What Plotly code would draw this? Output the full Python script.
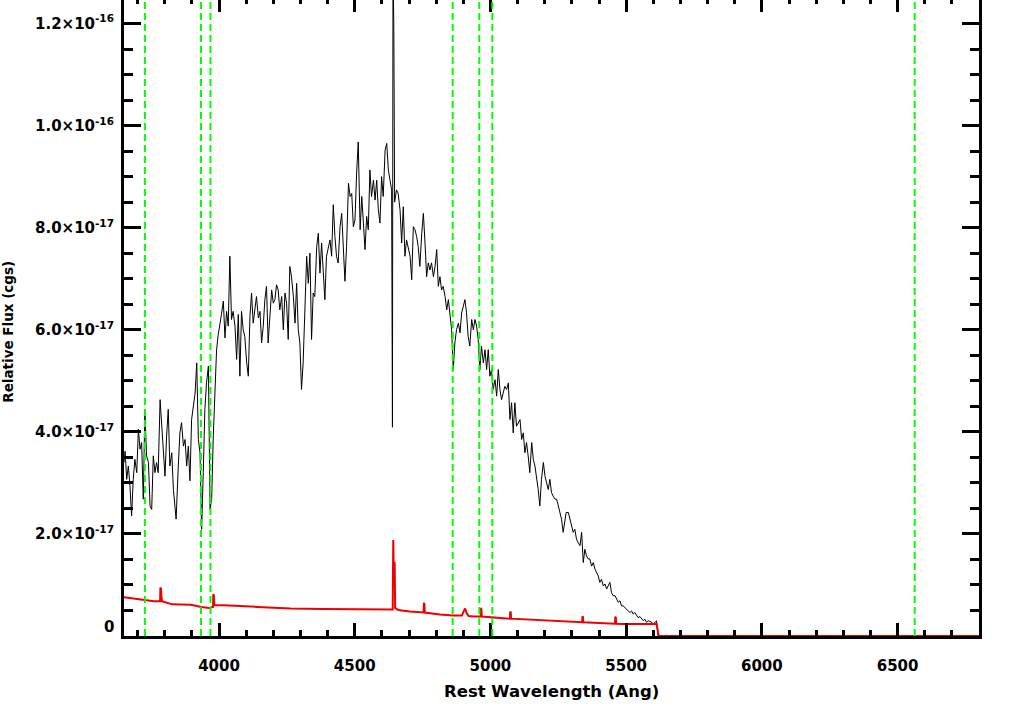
import plotly.graph_objects as go

# ---------------- data (flux in units of 1e-17 erg/s/cm2/A) ----------------
SCALE = 1e-17

wl_obj = [3650, 3654, 3660, 3666, 3672, 3678, 3684, 3690, 3697, 3703, 3709, 3715, 3721, 3727,
          3733, 3740, 3746, 3752, 3758, 3764, 3770, 3776, 3783, 3789, 3795, 3801, 3807, 3813,
          3819, 3826, 3832, 3842, 3850, 3856, 3862, 3869, 3875, 3881, 3887, 3893, 3899, 3905,
          3912, 3918, 3924, 3930, 3936, 3942, 3948, 3954, 3961, 3967, 3973, 3979, 3985, 3991,
          3997, 4003, 4009, 4016, 4022, 4028, 4034, 4040, 4046, 4052, 4059, 4065, 4071, 4077,
          4083, 4089, 4095, 4102, 4108, 4114, 4120, 4126, 4132, 4138, 4145, 4151, 4157, 4163,
          4169, 4175, 4181, 4188, 4194, 4200, 4206, 4212, 4218, 4224, 4231, 4237, 4243, 4249,
          4255, 4261, 4267, 4274, 4280, 4286, 4292, 4298, 4304, 4310, 4317, 4323, 4329, 4335,
          4341, 4347, 4353, 4360, 4366, 4372, 4378, 4384, 4390, 4396, 4403, 4409, 4415, 4421,
          4427, 4433, 4439, 4446, 4452, 4458, 4464, 4470, 4477, 4483, 4489, 4495, 4501, 4507,
          4513, 4520, 4526, 4532, 4538, 4544, 4550, 4556, 4562, 4569, 4575, 4581, 4587, 4593,
          4599, 4605, 4612, 4618, 4624, 4630, 4636, 4639, 4641, 4644, 4647, 4654, 4660, 4667,
          4673, 4679, 4685, 4691, 4697, 4704, 4710, 4716, 4722, 4728, 4734, 4740, 4747, 4753,
          4759, 4765, 4771, 4777, 4783, 4790, 4796, 4802, 4808, 4814, 4820, 4826, 4833, 4839,
          4845, 4851, 4857, 4863, 4869, 4875, 4882, 4888, 4894, 4900, 4906, 4912, 4918, 4924,
          4931, 4937, 4943, 4949, 4955, 4961, 4967, 4974, 4980, 4986, 4992, 4998, 5004, 5010,
          5017, 5023, 5029, 5035, 5041, 5047, 5053, 5060, 5066, 5072, 5078, 5084, 5090, 5096,
          5103, 5109, 5115, 5121, 5127, 5133, 5139, 5145, 5152, 5158, 5164, 5170, 5176, 5182,
          5188, 5195, 5201, 5207, 5213, 5219, 5225, 5231, 5238, 5244, 5250, 5256, 5262, 5268,
          5274, 5279, 5287, 5293, 5299, 5305, 5311, 5317, 5323, 5330, 5336, 5342, 5348, 5354,
          5360, 5366, 5373, 5379, 5385, 5391, 5397, 5403, 5409, 5416, 5422, 5428, 5434, 5440,
          5446, 5452, 5459, 5465, 5471, 5477, 5483, 5489, 5495, 5501, 5508, 5514, 5520, 5526,
          5532, 5538, 5544, 5551, 5557, 5563, 5569, 5575, 5581, 5587, 5594, 5600, 5606, 5612,
          5618, 6800]

flux_obj = [3.40, 3.62, 3.07, 3.33, 2.94, 2.35, 3.07, 3.46, 3.20, 4.05, 3.66, 3.79, 2.68, 4.44,
            3.53, 3.40, 2.55, 2.48, 3.53, 3.20, 3.40, 3.20, 4.63, 4.11, 3.66, 3.13, 3.92, 4.44,
            3.33, 3.59, 2.87, 2.29, 3.33, 3.98, 4.18, 3.72, 3.85, 3.33, 3.72, 3.04, 4.24, 4.44,
            4.76, 5.35, 3.85, 3.59, 2.09, 3.20, 4.44, 4.96, 5.29, 2.48, 2.68, 3.92, 4.96, 5.60,
            5.90, 6.07, 6.30, 6.56, 5.84, 6.36, 6.07, 7.44, 6.20, 6.36, 6.07, 5.42, 6.30, 5.09,
            6.36, 6.00, 5.87, 5.35, 5.09, 6.26, 6.72, 6.13, 6.36, 6.65, 6.23, 6.36, 5.74, 6.07,
            6.59, 6.85, 5.74, 6.26, 6.78, 6.52, 6.59, 6.88, 6.78, 6.39, 6.65, 6.00, 6.72, 6.52,
            5.81, 7.24, 7.04, 6.65, 6.13, 6.91, 6.00, 5.74, 4.83, 5.35, 6.59, 7.44, 6.91, 7.50,
            5.81, 6.72, 6.65, 7.63, 7.89, 7.11, 7.70, 7.04, 6.59, 7.44, 7.63, 7.76, 7.44, 8.45,
            7.83, 7.44, 7.31, 8.02, 8.28, 7.44, 6.95, 7.63, 8.87, 8.61, 8.67, 8.02, 8.15, 9.07,
            9.68, 7.96, 8.61, 8.09, 7.57, 8.22, 7.96, 9.13, 8.61, 8.93, 8.54, 8.93, 8.35, 8.09,
            9.00, 8.61, 9.52, 9.65, 9.13, 8.93, 8.74, 4.09, 13.00, 12.00, 8.50, 8.74, 8.67, 8.35,
            7.70, 8.41, 7.44, 7.76, 7.63, 7.44, 6.98, 8.02, 7.96, 7.83, 7.63, 7.24, 7.89, 8.28,
            7.70, 7.04, 7.31, 7.17, 7.31, 7.04, 7.24, 7.57, 6.85, 7.04, 6.78, 6.85, 6.65, 6.39,
            6.59, 6.26, 6.00, 5.22, 5.74, 6.00, 6.13, 5.94, 6.33, 6.46, 6.59, 6.33, 5.87, 5.68,
            6.20, 6.00, 6.20, 6.07, 5.81, 5.22, 5.68, 5.35, 5.61, 5.22, 5.61, 5.09, 5.22, 4.83,
            5.02, 4.70, 5.22, 4.83, 4.63, 4.76, 4.89, 4.83, 4.96, 4.24, 4.57, 3.98, 4.57, 4.11,
            4.18, 4.24, 3.85, 3.98, 3.59, 3.79, 3.53, 3.20, 3.79, 3.46, 3.33, 3.13, 2.87, 2.55,
            3.07, 3.40, 3.13, 3.00, 2.87, 3.07, 2.81, 2.74, 2.68, 2.68, 2.55, 2.42, 2.29, 2.03,
            2.29, 2.42, 2.42, 2.29, 2.16, 2.03, 2.09, 1.90, 1.83, 1.77, 2.03, 1.44, 1.70, 1.57,
            1.51, 1.51, 1.37, 1.44, 1.31, 1.25, 1.18, 1.05, 1.11, 0.98, 1.02, 0.92, 0.98, 1.05,
            0.85, 0.79, 0.79, 0.72, 0.66, 0.69, 0.59, 0.59, 0.56, 0.53, 0.49, 0.46, 0.49, 0.43,
            0.46, 0.40, 0.36, 0.38, 0.33, 0.30, 0.33, 0.27, 0.30, 0.28, 0.27, 0.23, 0.27, 0.30,
            0.00, 0.00]

wl_err = [3650, 3680, 3723, 3760, 3783, 3784, 3786, 3788, 3790, 3827, 3896, 3935, 3963, 3978,
          3979, 3981, 3983, 4018, 4141, 4264, 4387, 4509, 4636, 4640, 4642, 4644, 4647, 4649,
          4660, 4703, 4754, 4755, 4757, 4758, 4814, 4863, 4895, 4903, 4907, 4912, 4920, 4937,
          4964, 4965, 4967, 4968, 4998, 5072, 5073, 5075, 5076, 5121, 5244, 5338, 5339, 5341,
          5342, 5459, 5460, 5462, 5463, 5489, 5612, 5620, 6800]

flux_err = [0.76, 0.74, 0.71, 0.68, 0.68, 0.95, 0.93, 0.78, 0.68, 0.62, 0.61, 0.57, 0.55, 0.57,
            0.82, 0.80, 0.60, 0.60, 0.57, 0.54, 0.53, 0.53, 0.52, 0.52, 1.88, 1.20, 1.45, 0.55,
            0.51, 0.48, 0.46, 0.65, 0.62, 0.46, 0.42, 0.40, 0.40, 0.50, 0.54, 0.45, 0.39, 0.38,
            0.38, 0.55, 0.52, 0.38, 0.37, 0.34, 0.48, 0.46, 0.34, 0.33, 0.30, 0.27, 0.385, 0.37,
            0.27, 0.24, 0.38, 0.36, 0.24, 0.235, 0.235, 0.00, 0.00]

line_wl = [3727, 3933.7, 3968.5, 4861, 4959, 5007, 6563]

x_range = [3650, 6800]
y_range = [0, 1.246e-16]
xtick_vals = [4000, 4500, 5000, 5500, 6000, 6500]
ytick_vals = [0, 2e-17, 4e-17, 6e-17, 8e-17, 1e-16, 1.2e-16]
ytick_text = ["", "2.0×10<sup>-17</sup>", "4.0×10<sup>-17</sup>", "6.0×10<sup>-17</sup>",
              "8.0×10<sup>-17</sup>", "1.0×10<sup>-16</sup>", "1.2×10<sup>-16</sup>"]

FONT = dict(family="DejaVu Sans", size=15, color="black", weight="bold")

fig = go.Figure()
fig.add_trace(go.Scatter(x=wl_obj, y=[v * SCALE for v in flux_obj], mode="lines",
                         line=dict(color="black", width=1), showlegend=False, hoverinfo="skip"))
fig.add_trace(go.Scatter(x=wl_err, y=[v * SCALE for v in flux_err], mode="lines",
                         line=dict(color="#ee0000", width=2), showlegend=False, hoverinfo="skip"))
# invisible trace to create the top axis
fig.add_trace(go.Scatter(x=[x_range[0]], y=[None], xaxis="x2", mode="lines",
                         showlegend=False, hoverinfo="skip"))

for w in line_wl:
    fig.add_shape(type="line", x0=w, x1=w, xref="x", y0=0, y1=1, yref="paper",
                  line=dict(color="#00ff00", width=2, dash="7px,4px"), layer="above")

fig.update_layout(
    width=1020, height=706,
    margin=dict(l=124, r=41, t=0, b=70),
    paper_bgcolor="white", plot_bgcolor="white",
    font=FONT,
    xaxis=dict(range=x_range, tickvals=xtick_vals, ticks="inside", ticklen=13, tickwidth=3,
               tickcolor="black", showline=True, linewidth=3, linecolor="black",
               showgrid=False, zeroline=False, ticklabelstandoff=14, tickfont=FONT,
               minor=dict(dtick=100, tick0=3600, ticks="inside", ticklen=6, tickwidth=3,
                          tickcolor="black", showgrid=False)),
    xaxis2=dict(range=x_range, overlaying="x", side="top", tickvals=xtick_vals, ticks="inside",
                ticklen=12, tickwidth=3, tickcolor="black", showline=False, showgrid=False,
                zeroline=False, showticklabels=False,
                minor=dict(dtick=100, tick0=3600, ticks="inside", ticklen=4, tickwidth=3,
                           tickcolor="black", showgrid=False)),
    yaxis=dict(range=y_range, tickmode="array", tickvals=ytick_vals, ticktext=ytick_text,
               ticks="inside", ticklen=17, tickwidth=3, tickcolor="black", showline=True,
               linewidth=3, linecolor="black", mirror="ticks", showgrid=False, zeroline=False,
               tickfont=FONT, ticklabelstandoff=4,
               minor=dict(tickmode="linear", tick0=0, dtick=5e-18, ticks="inside", ticklen=9,
                          tickwidth=3, tickcolor="black", showgrid=False)),
    annotations=[
        dict(text="Rest Wavelength (Ang)", xref="paper", yref="paper", x=0.5, y=-0.088,
             xanchor="center", yanchor="middle", showarrow=False,
             font=dict(family="DejaVu Sans", size=16.5, color="black", weight="bold")),
        dict(text="Relative Flux (cgs)", xref="paper", yref="paper", x=-0.136, y=0.478,
             xanchor="center", yanchor="middle", showarrow=False, textangle=-90,
             font=dict(family="DejaVu Sans", size=13.5, color="black", weight="bold")),
        dict(text="0", xref="paper", yref="y", x=0, y=ytick_vals[0], xanchor="right",
             yanchor="middle", xshift=-8, yshift=9, showarrow=False, font=FONT),
    ],
)

fig.write_html("out.html", config={"displayModeBar": False},
               post_script="document.body.style.margin='0';document.body.style.overflow='hidden';")
